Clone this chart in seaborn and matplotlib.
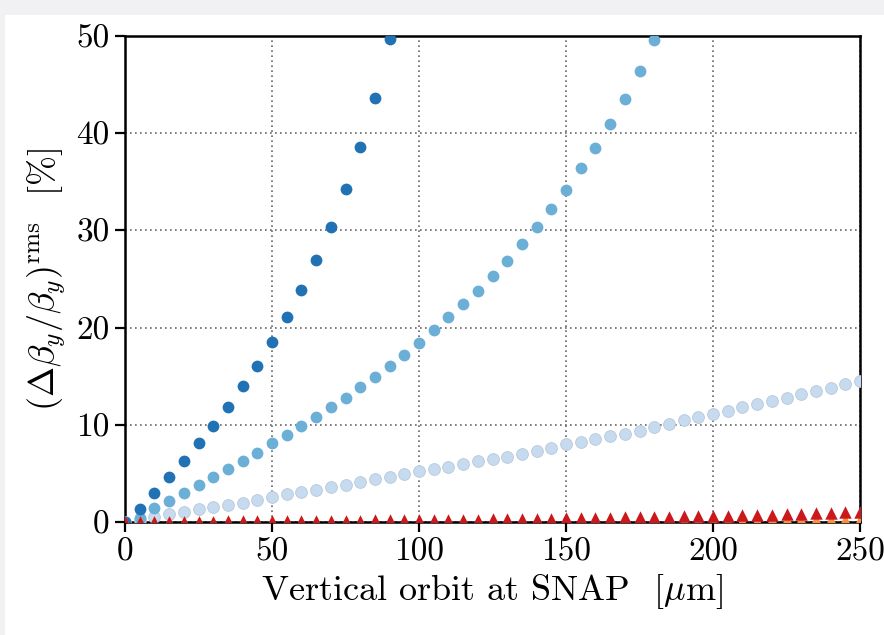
import numpy as np
import pandas as pd
import matplotlib
matplotlib.use("Agg")
import matplotlib.pyplot as plt
import seaborn as sns
from matplotlib.patches import Rectangle

# ---- data ----
x_dark = list(range(0, 95, 5))
y_dark = [0, 1.3, 3.0, 4.6, 6.3, 8.1, 9.9, 11.8, 14.0, 16.0, 18.5, 21.1, 23.9,
          27.0, 30.4, 34.3, 38.6, 43.6, 49.7]

x_mid = list(range(0, 185, 5))
y_mid = [0, 0.4, 1.4, 2.2, 3.0, 3.8, 4.6, 5.5, 6.3, 7.1, 8.1, 8.9, 9.9, 10.8,
         11.8, 12.8, 13.9, 14.9, 16.0, 17.2, 18.4, 19.8, 21.1, 22.4, 23.8, 25.3,
         26.9, 28.6, 30.3, 32.2, 34.2, 36.4, 38.5, 40.9, 43.5, 46.4, 49.6]

x_light = list(range(0, 255, 5))
y_light = [0, 0.2, 0.5, 0.8, 1.0, 1.3, 1.5, 1.8, 2.0, 2.3, 2.6, 2.9, 3.1, 3.3,
           3.6, 3.8, 4.1, 4.4, 4.6, 4.9, 5.2, 5.5, 5.7, 6.0, 6.3, 6.5, 6.7, 7.0,
           7.3, 7.6, 8.0, 8.2, 8.5, 8.8, 9.1, 9.4, 9.8, 10.1, 10.5, 10.8, 11.1,
           11.4, 11.8, 12.1, 12.5, 12.8, 13.2, 13.5, 13.8, 14.2, 14.5]

x_tri = list(range(0, 255, 5))
y_orange = [0, 0, 0, 0, 0, 0.01, 0.01, 0.01, 0.01, 0.01, 0.02, 0.02, 0.02, 0.02,
            0.03, 0.03, 0.03, 0.03, 0.04, 0.04, 0.04, 0.05, 0.05, 0.05, 0.06,
            0.06, 0.07, 0.07, 0.07, 0.08, 0.08, 0.09, 0.09, 0.10, 0.10, 0.11,
            0.11, 0.12, 0.12, 0.13, 0.13, 0.14, 0.15, 0.15, 0.16, 0.17, 0.17,
            0.18, 0.19, 0.19, 0.20]
y_red = [0, 0.01, 0.01, 0.02, 0.03, 0.04, 0.05, 0.06, 0.07, 0.08, 0.09, 0.10,
         0.11, 0.12, 0.13, 0.14, 0.15, 0.16, 0.17, 0.18, 0.19, 0.20, 0.21, 0.23,
         0.25, 0.27, 0.29, 0.31, 0.33, 0.36, 0.38, 0.40, 0.42, 0.44, 0.47, 0.49,
         0.52, 0.55, 0.57, 0.60, 0.62, 0.65, 0.68, 0.72, 0.76, 0.80, 0.84, 0.89,
         0.94, 0.99, 1.04]

x_ticks = [0, 50, 100, 150, 200, 250]
y_ticks = [0, 10, 20, 30, 40, 50]

# ---- style ----
sns.set_theme(style="ticks")
plt.rcParams["font.family"] = ["cmr10", "DejaVu Serif"]
plt.rcParams["mathtext.fontset"] = "cm"
plt.rcParams["axes.formatter.use_mathtext"] = True
plt.rcParams["text.color"] = "black"
plt.rcParams["axes.labelcolor"] = "black"
plt.rcParams["xtick.color"] = "black"
plt.rcParams["ytick.color"] = "black"

fig = plt.figure(figsize=(8.84, 6.35), dpi=100)
fig.patch.set_facecolor("#f1f1f4")
bg = Rectangle((5 / 884, 0), 1, 1 - 15 / 635, transform=fig.transFigure,
               facecolor="white", edgecolor="none", zorder=-10)
fig.patches.append(bg)
ax = fig.add_axes([125 / 884, (635 - 522) / 635, 735 / 884, 486 / 635])
ax.set_zorder(5)
ax.set_facecolor("white")

ms = 72
sns.scatterplot(x=x_light, y=y_light, ax=ax, color="#c6dbef", s=ms, linewidth=0.6,
                edgecolor="#b8c8d8", zorder=3)
sns.scatterplot(x=x_mid, y=y_mid, ax=ax, color="#6baed6", s=ms, linewidth=0, zorder=4)
sns.scatterplot(x=x_dark, y=y_dark, ax=ax, color="#2171b5", s=ms, linewidth=0, zorder=5)
sns.scatterplot(x=x_tri, y=y_orange, ax=ax, color="#fd8d3c", marker="^", s=80,
                linewidth=0, zorder=6)
sns.scatterplot(x=x_tri, y=y_red, ax=ax, color="#cb181d", marker="^", s=80,
                linewidth=0, zorder=7)

ax.set_xlim(0, 250)
ax.set_ylim(0, 50)
ax.set_xticks(x_ticks)
ax.set_yticks(y_ticks)
ax.set_xticklabels([str(v) for v in x_ticks])
ax.set_yticklabels([str(v) for v in y_ticks])
ax.tick_params(axis="both", labelsize=24, length=7, width=1.6, color="black",
               labelcolor="black", direction="out", pad=4)
ax.grid(True, linestyle=(0, (1, 2)), color="#666666", linewidth=1.2, zorder=0)
ax.set_axisbelow(True)
for sp in ax.spines.values():
    sp.set_color("black")
    sp.set_linewidth(1.8)

ax.set_xlabel(r"Vertical orbit at SNAP  [$\mu$m]", fontsize=26, labelpad=4,
              color="black")
ax.set_ylabel(r"$(\Delta\beta_y/\beta_y)^{\rm rms}$  [%]", fontsize=26, labelpad=6,
              color="black")

fig.savefig("out.png", dpi=100, facecolor=fig.get_facecolor())
